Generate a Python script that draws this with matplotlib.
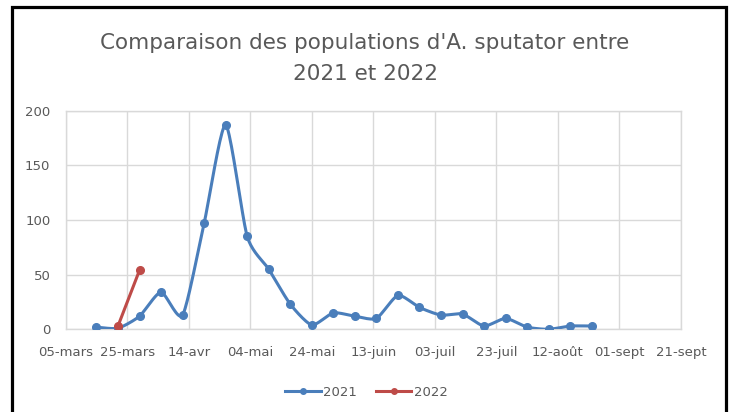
import numpy as np
import pandas as pd
import matplotlib
matplotlib.use("Agg")
import matplotlib.pyplot as plt
import matplotlib.dates as mdates
from matplotlib.patches import Rectangle
from matplotlib.lines import Line2D

# ---- data ----
title = "Comparaison des populations d'A. sputator entre\n2021 et 2022"
dates_2021 = pd.date_range("2021-03-15", periods=24, freq="7D")
values_2021 = [2, 1, 12, 34, 13, 97, 187, 85, 55, 23, 4, 15, 12, 10, 31, 20, 13, 14, 3, 10, 2, 0, 3, 3]
# 2022 counts plotted on the common (2021) calendar axis
dates_2022 = pd.to_datetime(["2021-03-22", "2021-03-29"])
values_2022 = [3, 54]
tick_dates = pd.date_range("2021-03-05", periods=11, freq="20D")
tick_labels = ["05-mars", "25-mars", "14-avr", "04-mai", "24-mai", "13-juin",
               "03-juil", "23-juil", "12-août", "01-sept", "21-sept"]
y_ticks = [0, 50, 100, 150, 200]
series_names = ["2021", "2022"]

BLUE = "#4A7EBB"
RED = "#BE4B48"
GRID = "#D9D9D9"
TXT = "#595959"


def smooth(x, y, n=20, k=0.11):
    """Bezier smoothing through the points (like Excel's smoothed line)."""
    x = np.asarray(x, float)
    y = np.asarray(y, float)
    px = np.concatenate([[x[0]], x, [x[-1]]])
    py = np.concatenate([[y[0]], y, [y[-1]]])
    xs, ys = [], []
    t = np.linspace(0, 1, n, endpoint=False)
    for i in range(1, len(px) - 2):
        p0x, p1x, p2x, p3x = px[i - 1], px[i], px[i + 1], px[i + 2]
        p0y, p1y, p2y, p3y = py[i - 1], py[i], py[i + 1], py[i + 2]
        c1x = p1x + (p2x - p0x) * k
        c1y = p1y + (p2y - p0y) * k
        c2x = p2x - (p3x - p1x) * k
        c2y = p2y - (p3y - p1y) * k
        b0 = (1 - t) ** 3
        b1 = 3 * (1 - t) ** 2 * t
        b2 = 3 * (1 - t) * t ** 2
        b3 = t ** 3
        xs.append(b0 * p1x + b1 * c1x + b2 * c2x + b3 * p2x)
        ys.append(b0 * p1y + b1 * c1y + b2 * c2y + b3 * p2y)
    xs.append([x[-1]])
    ys.append([y[-1]])
    return np.concatenate(xs), np.concatenate(ys)


plt.rcParams["font.family"] = ["DejaVu Sans"]

fig = plt.figure(figsize=(7.33, 4.12), dpi=100)
ax = fig.add_axes([0.0896, 0.2007, 0.8394, 0.5306])

x21 = mdates.date2num(dates_2021)
sx, sy = smooth(x21, values_2021)
ax.plot(sx, sy, color=BLUE, lw=2.2, solid_capstyle="round", solid_joinstyle="round", zorder=3)
ax.plot(x21, values_2021, ls="none", marker="o", ms=5.5, color=BLUE, zorder=4)

x22 = mdates.date2num(dates_2022)
ax.plot(x22, values_2022, color=RED, lw=2.2, marker="o", ms=5.5, zorder=5)

ax.set_xlim(mdates.date2num(tick_dates[0]), mdates.date2num(tick_dates[-1]))
ax.set_ylim(0, 200)
ax.set_xticks(mdates.date2num(tick_dates))
ax.set_xticklabels(tick_labels)
ax.set_yticks(y_ticks)
ax.tick_params(axis="both", length=0, labelsize=9.5, labelcolor=TXT)
ax.tick_params(axis="x", pad=12)
ax.tick_params(axis="y", pad=11)
ax.grid(True, color=GRID, lw=1)
ax.set_axisbelow(True)
for s in ax.spines.values():
    s.set_color(GRID)
    s.set_linewidth(1)

fig.text(0.498, 0.858, title, ha="center", va="center", fontsize=15.5,
         color=TXT, linespacing=1.7)

handles = [Line2D([0], [0], color=BLUE, lw=2.2, marker="o", ms=4),
           Line2D([0], [0], color=RED, lw=2.2, marker="o", ms=4)]
leg = fig.legend(handles, series_names, loc="center", bbox_to_anchor=(0.5, 0.048),
                 ncol=2, frameon=False, fontsize=9.5, handlelength=2.7,
                 handletextpad=0.2, columnspacing=1.4)
for t in leg.get_texts():
    t.set_color(TXT)

# chart border (bottom edge lies outside the picture)
fig.patches.append(Rectangle((12 / 733, -0.3), (726 - 12) / 733, (405 / 412) + 0.3,
                             transform=fig.transFigure, fill=False,
                             edgecolor="black", lw=2.3, clip_on=False))

fig.savefig("out.png", dpi=100)
